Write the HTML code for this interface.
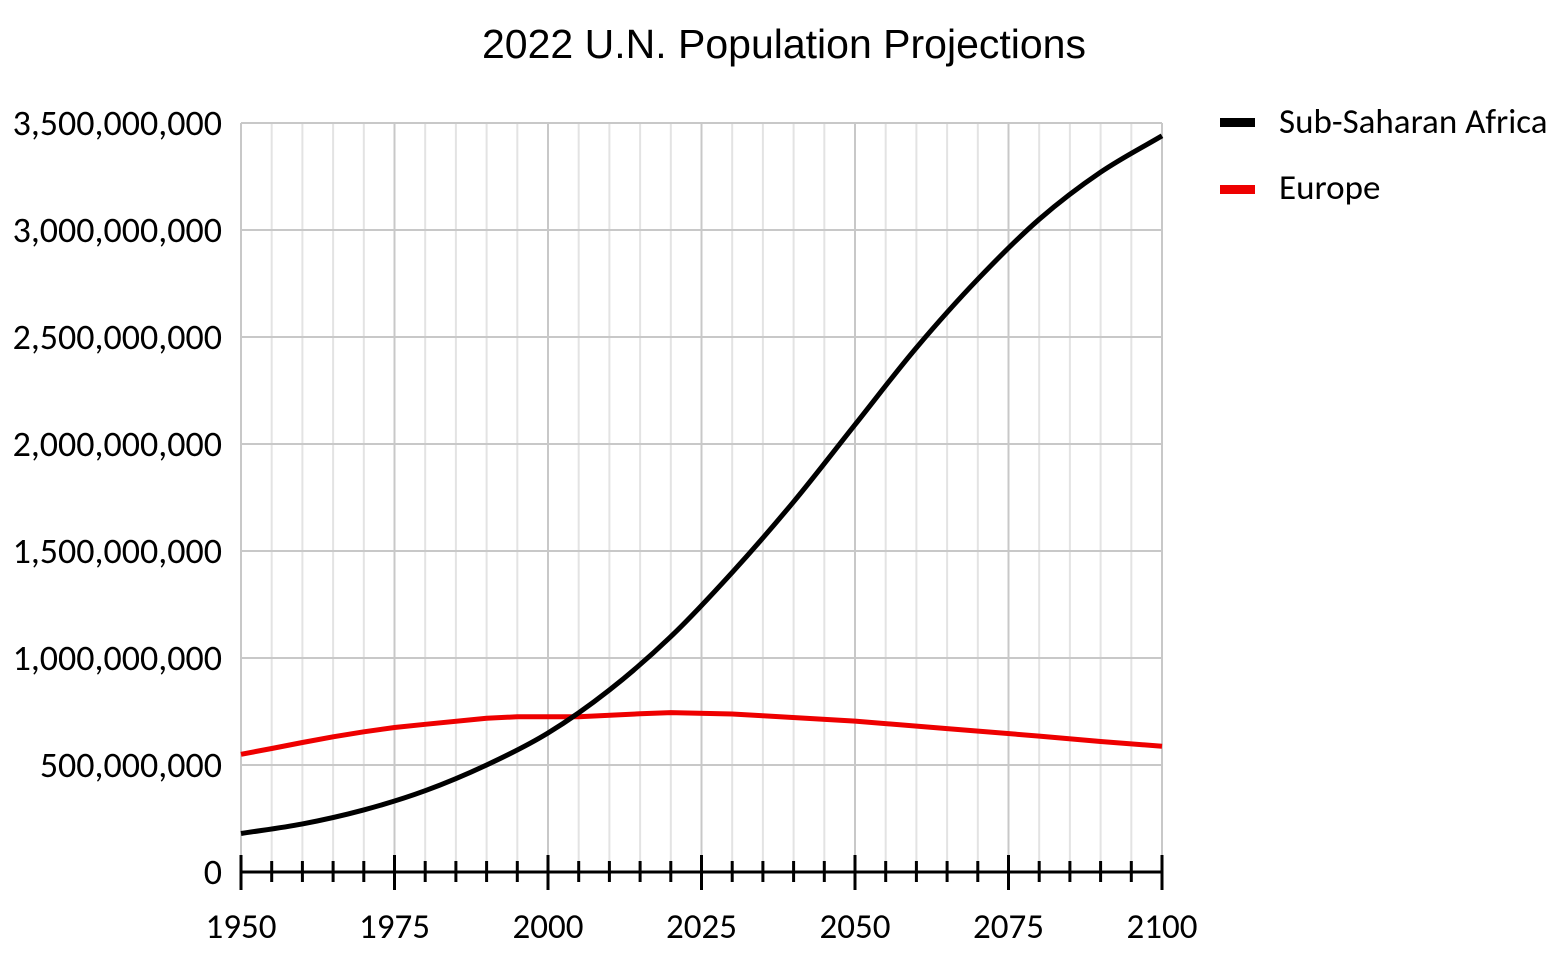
<!DOCTYPE html>
<html><head><meta charset="utf-8"><style>body{margin:0;background:#fff}svg{display:block}</style></head><body>
<svg width="1567" height="971" xmlns="http://www.w3.org/2000/svg" font-family="Carlito, 'Liberation Sans', sans-serif">
<rect width="1567" height="971" fill="#fff"/>
<text x="784" y="58" font-size="41" text-anchor="middle" font-family="'Liberation Sans',sans-serif">2022 U.N. Population Projections</text>
<g stroke="#e3e3e3" stroke-width="2">
<line x1="271.7" y1="123" x2="271.7" y2="872"/><line x1="302.4" y1="123" x2="302.4" y2="872"/><line x1="333.1" y1="123" x2="333.1" y2="872"/><line x1="363.8" y1="123" x2="363.8" y2="872"/>
<line x1="425.2" y1="123" x2="425.2" y2="872"/><line x1="455.9" y1="123" x2="455.9" y2="872"/><line x1="486.6" y1="123" x2="486.6" y2="872"/><line x1="517.3" y1="123" x2="517.3" y2="872"/>
<line x1="578.7" y1="123" x2="578.7" y2="872"/><line x1="609.4" y1="123" x2="609.4" y2="872"/><line x1="640.1" y1="123" x2="640.1" y2="872"/><line x1="670.8" y1="123" x2="670.8" y2="872"/>
<line x1="732.2" y1="123" x2="732.2" y2="872"/><line x1="762.9" y1="123" x2="762.9" y2="872"/><line x1="793.6" y1="123" x2="793.6" y2="872"/><line x1="824.3" y1="123" x2="824.3" y2="872"/>
<line x1="885.7" y1="123" x2="885.7" y2="872"/><line x1="916.4" y1="123" x2="916.4" y2="872"/><line x1="947.1" y1="123" x2="947.1" y2="872"/><line x1="977.8" y1="123" x2="977.8" y2="872"/>
<line x1="1039.2" y1="123" x2="1039.2" y2="872"/><line x1="1069.9" y1="123" x2="1069.9" y2="872"/><line x1="1100.6" y1="123" x2="1100.6" y2="872"/><line x1="1131.3" y1="123" x2="1131.3" y2="872"/>
</g>
<g stroke="#c8c8c8" stroke-width="2">
<line x1="241" y1="123" x2="241" y2="872"/><line x1="394.5" y1="123" x2="394.5" y2="872"/><line x1="548" y1="123" x2="548" y2="872"/><line x1="701.5" y1="123" x2="701.5" y2="872"/><line x1="855" y1="123" x2="855" y2="872"/><line x1="1008.5" y1="123" x2="1008.5" y2="872"/><line x1="1162" y1="123" x2="1162" y2="872"/>
<line x1="241" y1="123" x2="1162" y2="123"/><line x1="241" y1="230" x2="1162" y2="230"/><line x1="241" y1="337" x2="1162" y2="337"/><line x1="241" y1="444" x2="1162" y2="444"/><line x1="241" y1="551" x2="1162" y2="551"/><line x1="241" y1="658" x2="1162" y2="658"/><line x1="241" y1="765" x2="1162" y2="765"/>
</g>
<g stroke="#000" stroke-width="3">
<line x1="241" y1="872" x2="1162" y2="872"/>
<line x1="241" y1="855" x2="241" y2="890"/><line x1="394.5" y1="855" x2="394.5" y2="890"/><line x1="548" y1="855" x2="548" y2="890"/><line x1="701.5" y1="855" x2="701.5" y2="890"/><line x1="855" y1="855" x2="855" y2="890"/><line x1="1008.5" y1="855" x2="1008.5" y2="890"/><line x1="1162" y1="855" x2="1162" y2="890"/>
<line x1="271.7" y1="861" x2="271.7" y2="882"/><line x1="302.4" y1="861" x2="302.4" y2="882"/><line x1="333.1" y1="861" x2="333.1" y2="882"/><line x1="363.8" y1="861" x2="363.8" y2="882"/>
<line x1="425.2" y1="861" x2="425.2" y2="882"/><line x1="455.9" y1="861" x2="455.9" y2="882"/><line x1="486.6" y1="861" x2="486.6" y2="882"/><line x1="517.3" y1="861" x2="517.3" y2="882"/>
<line x1="578.7" y1="861" x2="578.7" y2="882"/><line x1="609.4" y1="861" x2="609.4" y2="882"/><line x1="640.1" y1="861" x2="640.1" y2="882"/><line x1="670.8" y1="861" x2="670.8" y2="882"/>
<line x1="732.2" y1="861" x2="732.2" y2="882"/><line x1="762.9" y1="861" x2="762.9" y2="882"/><line x1="793.6" y1="861" x2="793.6" y2="882"/><line x1="824.3" y1="861" x2="824.3" y2="882"/>
<line x1="885.7" y1="861" x2="885.7" y2="882"/><line x1="916.4" y1="861" x2="916.4" y2="882"/><line x1="947.1" y1="861" x2="947.1" y2="882"/><line x1="977.8" y1="861" x2="977.8" y2="882"/>
<line x1="1039.2" y1="861" x2="1039.2" y2="882"/><line x1="1069.9" y1="861" x2="1069.9" y2="882"/><line x1="1100.6" y1="861" x2="1100.6" y2="882"/><line x1="1131.3" y1="861" x2="1131.3" y2="882"/>
</g>
<g font-size="36" text-anchor="end" fill="#000">
<text x="222" y="135">3,500,000,000</text>
<text x="222" y="242">3,000,000,000</text>
<text x="222" y="349">2,500,000,000</text>
<text x="222" y="456">2,000,000,000</text>
<text x="222" y="563">1,500,000,000</text>
<text x="222" y="670">1,000,000,000</text>
<text x="222" y="777">500,000,000</text>
<text x="222" y="884">0</text>
</g>
<g font-size="35" text-anchor="middle">
<text x="241" y="938">1950</text><text x="394.5" y="938">1975</text><text x="548" y="938">2000</text>
<text x="701.5" y="938">2025</text><text x="855" y="938">2050</text><text x="1008.5" y="938">2075</text><text x="1162" y="938">2100</text>
</g>
<polyline fill="none" stroke="#e00" stroke-width="5" stroke-linejoin="round" points="241,754.3 271.7,748.5 302.4,742.5 333.1,736.8 363.8,731.8 394.5,727.5 425.2,724.3 486.6,718.2 517.3,716.8 578.7,716.8 640.1,713.8 670.8,712.6 732.2,714 762.9,715.8 855,721.1 947.1,728.6 1039.2,736.1 1100.6,741.5 1162,746.2"/>
<path fill="none" stroke="#000" stroke-width="5" d="M241,833.5 C261.5,830.3 281.9,827.8 302.4,823.9 C322.9,820 343.3,815.4 363.8,809.9 C384.3,804.4 404.7,798.2 425.2,790.7 C445.7,783.2 466.1,774.6 486.6,765 C507.1,755.4 527.5,745.5 548,733 C568.5,720.5 588.9,706.1 609.4,690 C629.9,673.9 650.3,656.2 670.8,636.6 C691.3,617 711.7,594.9 732.2,572.4 C752.7,549.9 773.1,526.4 793.6,501.8 C814.1,477.2 834.5,450.4 855,424.7 C875.5,399 895.9,371.9 916.4,347.7 C936.9,323.5 957.3,300.6 977.8,279.2 C998.3,257.8 1018.7,237.1 1039.2,219.3 C1059.7,201.5 1080.1,186.1 1100.6,172.2 C1121.1,158.3 1141.5,147.9 1162,135.8"/>
<rect x="1220" y="118" width="35" height="9" fill="#000"/>
<rect x="1220" y="185" width="35" height="9" fill="#e00"/>
<text x="1279" y="133" font-size="35">Sub-Saharan Africa</text>
<text x="1279" y="199" font-size="35">Europe</text>
</svg>
</body></html>
